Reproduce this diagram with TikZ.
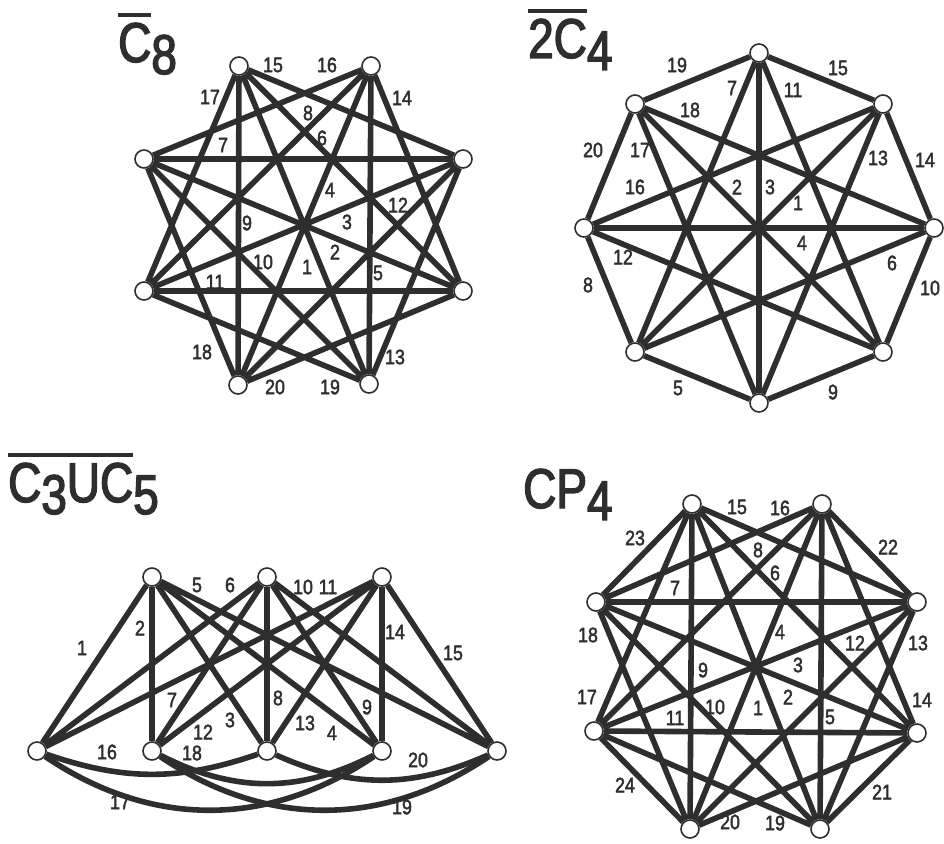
\documentclass[tikz,border=0pt]{standalone}
\usepackage{fontspec}
\setmainfont{Liberation Sans}[FakeStretch=0.85]
\newfontfamily\lblfont{Liberation Sans}[FakeStretch=0.85, FakeBold=2]
\newfontfamily\namefont{Liberation Sans}[FakeStretch=0.82, FakeBold=2.5]
\usepackage{xcolor}
\usepackage{tikz}
\usetikzlibrary{positioning}
\definecolor{gink}{HTML}{2E2E2E}
\newcommand\ovbar[1]{\vbox{\hrule height 4pt\kern 6pt\hbox{#1}}}
\newcommand\lowsub[1]{\raisebox{-12pt}{#1}}

\begin{document}
\begin{tikzpicture}[
  x=1pt, y=-1pt,
  vtx/.style={
    circle, draw=gink, fill=white, line width=1.6pt,
    minimum size=18pt, inner sep=0pt
  },
  gedge/.style={draw=gink, line width=5.6pt},
  elbl/.style={font=\lblfont\fontsize{21}{21}\selectfont, text=gink, inner sep=0pt},
  gname/.style={
    font=\namefont\fontsize{56}{56}\selectfont, text=gink,
    inner sep=0pt, anchor=base west
  },
]
\useasboundingbox (0,0) rectangle (944,843);

% complement of C8 (top left)
\node[gname] (name1) at (118,62) {\ovbar{C}\lowsub{8}};

\node[vtx] (ca) at (239,66) {};
\node[vtx] (cb) at (371,66) {};
\node[vtx] (cc) at (463,159) {};
\node[vtx] (cd) at (463,291) {};
\node[vtx] (ce) at (369,384) {};
\node[vtx] (cf) at (238,385) {};
\node[vtx] (cg) at (144,291) {};
\node[vtx] (ch) at (144,159) {};

\draw[gedge] (ca) -- (cc) (ca) -- (cd) (ca) -- (ce) (ca) -- (cf) (ca) -- (cg)
  (cb) -- (cd) (cb) -- (ce) (cb) -- (cf) (cb) -- (cg) (cb) -- (ch)
  (cc) -- (ce) (cc) -- (cf) (cc) -- (cg) (cc) -- (ch)
  (cd) -- (cf) (cd) -- (cg) (cd) -- (ch)
  (ce) -- (cg) (ce) -- (ch)
  (cf) -- (ch);

\node[elbl] (c15) at (273,65) {15};
\node[elbl] (c16) at (327,65) {16};
\node[elbl] (c17) at (210,97) {17};
\node[elbl] (c14) at (402,98) {14};
\node[elbl] (c8) at (308,113) {8};
\node[elbl] (c6) at (322,138) {6};
\node[elbl] (c7) at (223,145) {7};
\node[elbl] (c4) at (330,190) {4};
\node[elbl] (c12) at (398,205) {12};
\node[elbl] (c3) at (347,222) {3};
\node[elbl] (c9) at (247,223) {9};
\node[elbl] (c2) at (335,252) {2};
\node[elbl] (c10) at (263,262) {10};
\node[elbl] (c1) at (307,267) {1};
\node[elbl] (c5) at (378,273) {5};
\node[elbl] (c11) at (215,282) {11};
\node[elbl] (c18) at (202,352) {18};
\node[elbl] (c13) at (395,357) {13};
\node[elbl] (c20) at (275,387) {20};
\node[elbl] (c19) at (330,387) {19};

% complement of 2C4 (top right)
\node[gname] (name2) at (528,58) {\ovbar{2C}\lowsub{4}};

\node[vtx] (d0) at (934,228) {};
\node[vtx] (d1) at (883,104) {};
\node[vtx] (d2) at (759,53) {};
\node[vtx] (d3) at (635,104) {};
\node[vtx] (d4) at (584,228) {};
\node[vtx] (d5) at (635,352) {};
\node[vtx] (d6) at (759,403) {};
\node[vtx] (d7) at (883,352) {};

\draw[gedge] (d0) -- (d1) (d1) -- (d2) (d2) -- (d3) (d3) -- (d4)
  (d4) -- (d5) (d5) -- (d6) (d6) -- (d7) (d7) -- (d0)
  (d0) -- (d3) (d1) -- (d4) (d2) -- (d5) (d3) -- (d6)
  (d4) -- (d7) (d5) -- (d0) (d6) -- (d1) (d7) -- (d2)
  (d0) -- (d4) (d1) -- (d5) (d2) -- (d6) (d3) -- (d7);

\node[elbl] (d19) at (677,65) {19};
\node[elbl] (d15) at (838,68) {15};
\node[elbl] (d7l) at (732,88) {7};
\node[elbl] (d11) at (793,90) {11};
\node[elbl] (d18) at (690,110) {18};
\node[elbl] (d20) at (593,150) {20};
\node[elbl] (d17) at (640,150) {17};
\node[elbl] (d13) at (878,158) {13};
\node[elbl] (d14) at (925,160) {14};
\node[elbl] (d16) at (635,187) {16};
\node[elbl] (d2l) at (737,187) {2};
\node[elbl] (d3l) at (770,187) {3};
\node[elbl] (d1l) at (798,203) {1};
\node[elbl] (d4l) at (802,243) {4};
\node[elbl] (d12) at (623,257) {12};
\node[elbl] (d6l) at (892,263) {6};
\node[elbl] (d8) at (588,285) {8};
\node[elbl] (d10) at (930,288) {10};
\node[elbl] (d5l) at (678,388) {5};
\node[elbl] (d9) at (833,392) {9};

% complement of C3 u C5 (bottom left)
\node[gname] (name3) at (8,502) {\ovbar{C\lowsub{3}UC}\lowsub{5}};

\node[vtx] (t1) at (152,577) {};
\node[vtx] (t2) at (267,577) {};
\node[vtx] (t3) at (382,577) {};
\node[vtx] (b1) at (37,751) {};
\node[vtx] (b2) at (152,751) {};
\node[vtx] (b3) at (267,751) {};
\node[vtx] (b4) at (382,751) {};
\node[vtx] (b5) at (497,751) {};

\draw[gedge] (t1) -- (b1) (t1) -- (b2) (t1) -- (b3) (t1) -- (b4) (t1) -- (b5)
  (t2) -- (b1) (t2) -- (b2) (t2) -- (b3) (t2) -- (b4) (t2) -- (b5)
  (t3) -- (b1) (t3) -- (b2) (t3) -- (b3) (t3) -- (b4) (t3) -- (b5);
\draw[gedge] (b1) to[bend right=19] (b3);
\draw[gedge] (b3) to[bend right=24] (b5);
\draw[gedge] (b2) to[bend right=27] (b4);
\draw[gedge] (b1) to[bend right=34] (b4);
\draw[gedge] (b2) to[bend right=34] (b5);

\node[elbl] (b1l) at (82,648) {1};
\node[elbl] (b2l) at (140,628) {2};
\node[elbl] (b5l) at (197,585) {5};
\node[elbl] (b6l) at (230,585) {6};
\node[elbl] (b10) at (303,587) {10};
\node[elbl] (b11) at (328,587) {11};
\node[elbl] (b14) at (395,632) {14};
\node[elbl] (b15) at (453,653) {15};
\node[elbl] (b7l) at (172,700) {7};
\node[elbl] (b8l) at (278,698) {8};
\node[elbl] (b9l) at (367,707) {9};
\node[elbl] (b3l) at (230,720) {3};
\node[elbl] (b12) at (203,732) {12};
\node[elbl] (b13) at (305,723) {13};
\node[elbl] (b4l) at (332,733) {4};
\node[elbl] (b16) at (107,752) {16};
\node[elbl] (b18) at (192,753) {18};
\node[elbl] (b20) at (418,760) {20};
\node[elbl] (b17) at (120,802) {17};
\node[elbl] (b19) at (402,807) {19};

% CP4 (bottom right)
\node[gname] (name4) at (523,508) {CP\lowsub{4}};

\node[vtx] (pa) at (692,504) {};
\node[vtx] (pb) at (822,504) {};
\node[vtx] (pc) at (917,602) {};
\node[vtx] (pd) at (917,733) {};
\node[vtx] (pe) at (820,829) {};
\node[vtx] (pf) at (690,829) {};
\node[vtx] (pg) at (594,731) {};
\node[vtx] (ph) at (596,602) {};

\draw[gedge] (pa) -- (pc) (pa) -- (pd) (pa) -- (pe) (pa) -- (pf) (pa) -- (pg) (pa) -- (ph)
  (pb) -- (pc) (pb) -- (pd) (pb) -- (pe) (pb) -- (pf) (pb) -- (pg) (pb) -- (ph)
  (pc) -- (pe) (pc) -- (pf) (pc) -- (pg) (pc) -- (ph)
  (pd) -- (pe) (pd) -- (pf) (pd) -- (pg) (pd) -- (ph)
  (pe) -- (pg) (pe) -- (ph)
  (pf) -- (pg) (pf) -- (ph);

\node[elbl] (p15) at (737,507) {15};
\node[elbl] (p16) at (780,508) {16};
\node[elbl] (p23) at (635,538) {23};
\node[elbl] (p22) at (888,547) {22};
\node[elbl] (p8) at (758,550) {8};
\node[elbl] (p6) at (775,573) {6};
\node[elbl] (p7) at (675,588) {7};
\node[elbl] (p18) at (588,635) {18};
\node[elbl] (p4) at (780,632) {4};
\node[elbl] (p13) at (918,643) {13};
\node[elbl] (p12) at (855,643) {12};
\node[elbl] (p3) at (798,665) {3};
\node[elbl] (p9) at (703,670) {9};
\node[elbl] (p17) at (587,697) {17};
\node[elbl] (p14) at (922,700) {14};
\node[elbl] (p2) at (788,697) {2};
\node[elbl] (p10) at (715,707) {10};
\node[elbl] (p1) at (758,708) {1};
\node[elbl] (p5) at (830,717) {5};
\node[elbl] (p11) at (675,718) {11};
\node[elbl] (p24) at (625,785) {24};
\node[elbl] (p21) at (882,792) {21};
\node[elbl] (p20) at (730,822) {20};
\node[elbl] (p19) at (775,823) {19};

\end{tikzpicture}
\end{document}
